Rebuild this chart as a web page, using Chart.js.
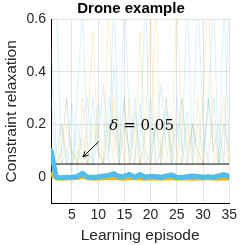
<!DOCTYPE html>
<html>
<head>
<meta charset="utf-8">
<script src="https://cdn.jsdelivr.net/npm/chart.js@4"></script>
<style>
  html, body { margin: 0; padding: 0; background: #fff; }
  #wrap { width: 240px; height: 245px; }
</style>
</head>
<body>
<div id="wrap"><canvas id="c" width="240" height="245"></canvas></div>
<script>
const episodes = Array.from({ length: 35 }, (_, i) => i + 1);
const xTicks = [5, 10, 15, 20, 25, 30, 35];
const yTicks = [0, 0.2, 0.4, 0.6];
const delta = 0.05;

// mean curves (thick)
const blueMean = [0.1, 0.0, -0.002, 0.0, 0.0, 0.003, 0.015, 0.0, 0.0, 0.002, 0.005, 0.007, 0.014, 0.002, 0.004, 0.011, 0.0, 0.01, 0.0, 0.004, 0.003, 0.0, 0.005, 0.009, 0.0, -0.001, 0.002, 0.005, 0.003, 0.0, 0.002, 0.0, 0.005, 0.01, 0.003];
const orangeMean = [0.012, -0.004, -0.006, -0.005, -0.004, -0.003, 0.002, -0.004, -0.006, -0.005, -0.003, -0.004, -0.002, -0.005, -0.006, -0.003, -0.004, -0.005, -0.006, -0.004, -0.005, -0.006, -0.004, -0.003, -0.006, -0.005, -0.004, -0.006, -0.004, -0.005, -0.003, -0.005, -0.006, -0.004, -0.005];

// individual runs (faint)
const blueRunA = [0.65, 0.7, 0.05, 0.1, 0.02, 0.3, 0.65, 0.1, 0.05, 0.28, 0.2, 0.05, 0.7, 0.1, 0.3, 0.05, 0.25, 0.1, 0.7, 0.05, 0.2, 0.35, 0.1, 0.05, 0.3, 0.1, 0.7, 0.05, 0.2, 0.1, 0.25, 0.7, 0.05, 0.65, 0.1];
const blueRunB = [0.5, 0.1, 0.2, 0.05, 0.28, 0.02, 0.2, 0.3, 0.05, 0.15, 0.35, 0.1, 0.42, 0.05, 0.2, 0.1, 0.3, 0.05, 0.15, 0.3, 0.05, 0.1, 0.25, 0.05, 0.15, 0.3, 0.05, 0.2, 0.1, 0.05, 0.3, 0.1, 0.2, 0.05, 0.7];
const blueRunC = [0.3, 0.05, 0.1, 0.3, 0.05, 0.2, 0.1, 0.05, 0.3, 0.1, 0.05, 0.3, 0.2, 0.05, 0.7, 0.2, 0.05, 0.28, 0.05, 0.1, 0.2, 0.05, 0.3, 0.1, 0.2, 0.05, 0.25, 0.1, 0.7, 0.2, 0.05, 0.3, 0.05, 0.2, 0.1];
const orangeRunA = [0.05, 0.02, 0.1, 0.3, 0.05, 0.1, 0.05, 0.2, 0.55, 0.1, 0.05, 0.7, 0.1, 0.2, 0.05, 0.3, 0.1, 0.05, 0.2, 0.6, 0.05, 0.1, 0.3, 0.05, 0.7, 0.1, 0.05, 0.2, 0.1, 0.05, 0.3, 0.1, 0.05, 0.2, 0.05];
const orangeRunB = [0.02, 0.1, 0.05, 0.2, 0.1, 0.05, 0.3, 0.05, 0.1, 0.2, 0.05, 0.1, 0.3, 0.05, 0.2, 0.1, 0.05, 0.55, 0.1, 0.05, 0.7, 0.05, 0.2, 0.1, 0.05, 0.3, 0.1, 0.2, 0.05, 0.3, 0.7, 0.05, 0.1, 0.3, 0.05];
const orangeRunC = [0.03, 0.05, 0.2, 0.05, 0.1, 0.05, 0.15, 0.05, 0.2, 0.1, 0.05, 0.2, 0.05, 0.1, 0.3, 0.05, 0.2, 0.05, 0.1, 0.05, 0.2, 0.1, 0.05, 0.2, 0.1, 0.05, 0.2, 0.05, 0.3, 0.05, 0.1, 0.2, 0.05, 0.1, 0.05];

const BLUE = '#4DBEEE';
const ORANGE = '#EDB120';
const FONT = '"Liberation Sans", Arial';

function pts(arr) { return episodes.map((e, i) => ({ x: e, y: arr[i] })); }

function faint(arr, color) {
  return { data: pts(arr), borderColor: color, borderWidth: 1, pointRadius: 0, order: 10 };
}

// title over the plot area + delta annotation with arrow
const annot = {
  id: 'annot',
  afterDatasetsDraw(chart) {
    const { ctx, scales: { x, y } } = chart;
    ctx.save();
    ctx.fillStyle = '#000';
    ctx.textBaseline = 'alphabetic';
    let px = x.getPixelForValue(12.1), py = y.getPixelForValue(0.178);
    ctx.font = 'italic 15px "DejaVu Serif"';
    ctx.fillText('δ', px, py);
    px += ctx.measureText('δ').width + 5;
    ctx.font = '15px "DejaVu Serif"';
    ctx.fillText('= 0.05', px, py);
    const x0 = x.getPixelForValue(10.1), y0 = y.getPixelForValue(0.135);
    const x1 = x.getPixelForValue(7.1), y1 = y.getPixelForValue(0.077);
    ctx.strokeStyle = '#000';
    ctx.lineWidth = 1;
    ctx.beginPath(); ctx.moveTo(x0, y0); ctx.lineTo(x1, y1); ctx.stroke();
    const a = Math.atan2(y1 - y0, x1 - x0);
    ctx.beginPath();
    ctx.moveTo(x1 - 6 * Math.cos(a - 0.45), y1 - 6 * Math.sin(a - 0.45));
    ctx.lineTo(x1, y1);
    ctx.lineTo(x1 - 6 * Math.cos(a + 0.45), y1 - 6 * Math.sin(a + 0.45));
    ctx.stroke();
    ctx.font = 'bold 15px ' + FONT;
    ctx.textAlign = 'center';
    ctx.textBaseline = 'middle';
    ctx.fillText('Drone example', 131, 9);
    ctx.restore();
  }
};

new Chart(document.getElementById('c').getContext('2d'), {
  type: 'line',
  data: {
    datasets: [
      { data: pts(blueMean), borderColor: BLUE, borderWidth: 5, pointRadius: 0, borderCapStyle: 'round', borderJoinStyle: 'round', order: 1 },
      { data: pts(orangeMean), borderColor: ORANGE, borderWidth: 4, pointRadius: 0, borderCapStyle: 'round', borderJoinStyle: 'round', order: 2 },
      { data: pts(episodes.map(() => delta)), borderColor: '#000', borderWidth: 1, pointRadius: 0, order: 3 },
      faint(blueRunA, 'rgba(77,190,238,0.2)'),
      faint(blueRunB, 'rgba(77,190,238,0.2)'),
      faint(blueRunC, 'rgba(77,190,238,0.2)'),
      faint(orangeRunA, 'rgba(237,177,32,0.2)'),
      faint(orangeRunB, 'rgba(237,177,32,0.2)'),
      faint(orangeRunC, 'rgba(237,177,32,0.2)')
    ]
  },
  options: {
    responsive: false,
    animation: false,
    layout: { padding: { top: 19, right: 6, bottom: 0, left: 2 } },
    plugins: {
      legend: { display: false },
      tooltip: { enabled: false },
      title: { display: false }
    },
    scales: {
      x: {
        type: 'linear', min: 1, max: 35,
        afterBuildTicks: s => { s.ticks = xTicks.map(v => ({ value: v })); },
        grid: { color: '#e3e3e3', drawTicks: false },
        border: { color: '#000', width: 1 },
        ticks: { color: '#262626', font: { family: FONT, size: 14 }, padding: 3, maxRotation: 0 },
        title: { display: true, text: 'Learning episode', color: '#262626', font: { family: FONT, size: 15.5 }, padding: { top: 0, bottom: 0 } }
      },
      y: {
        min: -0.1, max: 0.6,
        afterBuildTicks: s => { s.ticks = yTicks.map(v => ({ value: v })); },
        afterFit: s => { s.width = 49; },
        grid: { color: '#e3e3e3', drawTicks: false },
        border: { color: '#000', width: 1 },
        ticks: { color: '#262626', font: { family: FONT, size: 14 }, padding: 5, callback: v => String(+v.toFixed(1)) },
        title: { display: true, text: 'Constraint relaxation', color: '#262626', font: { family: FONT, size: 15.5 }, padding: { top: 0, bottom: 0 } }
      }
    }
  },
  plugins: [annot]
});
</script>
</body>
</html>
